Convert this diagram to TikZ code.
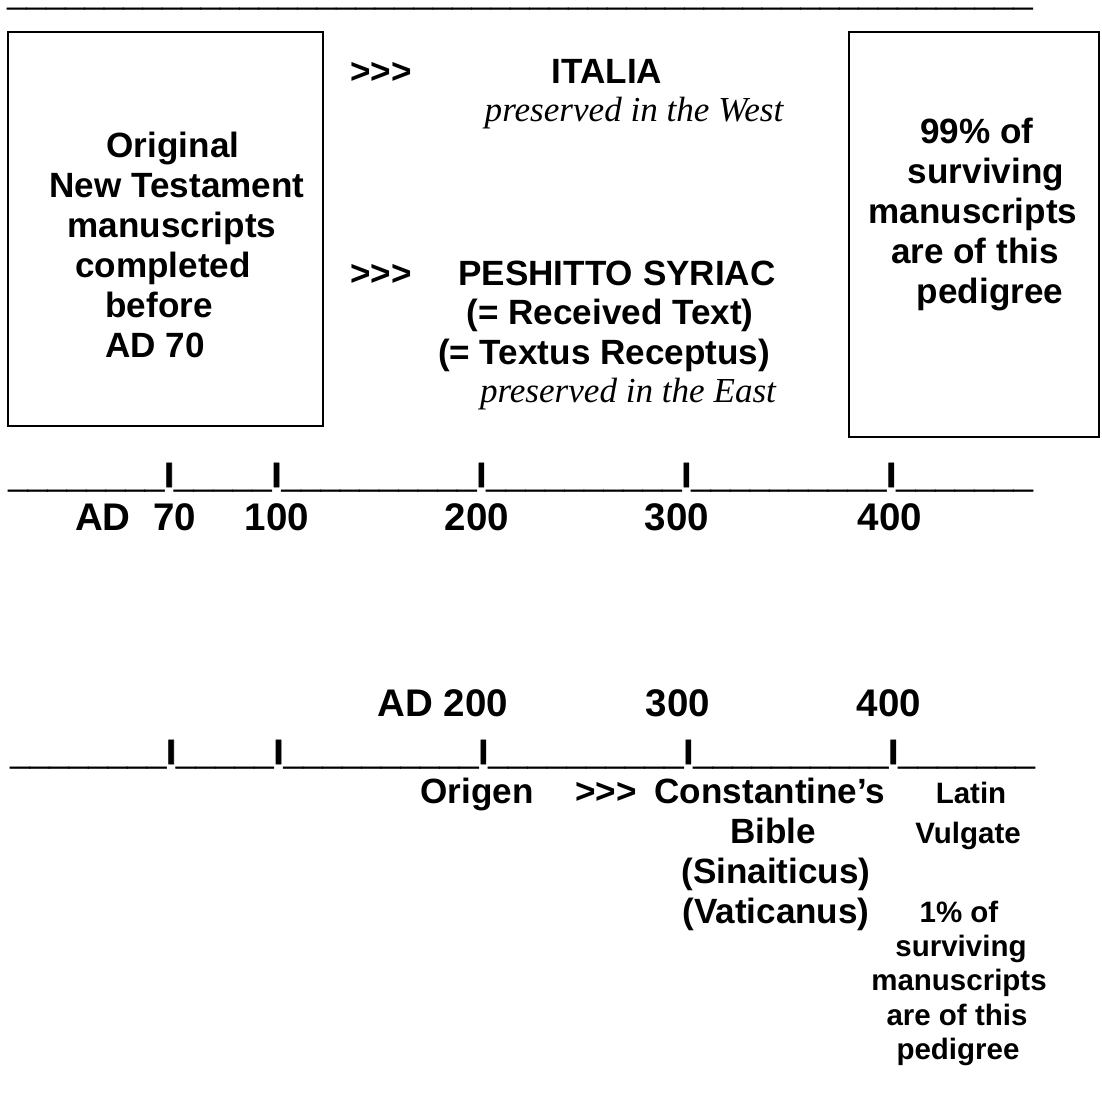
\documentclass[tikz,border=0pt]{standalone}
\usepackage{fontspec}
\setmainfont{Liberation Sans}
\newfontfamily\serifit{Liberation Serif}
\newfontfamily\rulefont{Liberation Sans Bold}[FakeBold=1.5]
\begin{document}
\begin{tikzpicture}[x=1pt,y=-1pt,
  t/.style={anchor=base,inner sep=0pt,font=\fontsize{35.1}{40.4}\selectfont\bfseries},
  lb/.style={anchor=base,inner sep=0pt,font=\fontsize{38.5}{44}\selectfont\bfseries},
  ital/.style={anchor=base,inner sep=0pt,font=\fontsize{35.1}{40.4}\selectfont\serifit\itshape},
  sm/.style={anchor=base,inner sep=0pt,font=\fontsize{29.5}{34}\selectfont\bfseries},
  rulerow/.style={anchor=base west,inner sep=0pt,font=\fontsize{35.1}{40.4}\selectfont\rulefont},
  frame/.style={draw,line width=1.4pt}]
\useasboundingbox (0,0) rectangle (1101,1109);

% top rule
\node[rulerow,font=\fontsize{34.8}{40}\selectfont\rulefont] (toprule) at (7,5)
 {\_\_\_\_\_\_\_\_\_\_\_\_\_\_\_\_\_\_\_\_\_\_\_\_\_\_\_\_\_\_\_\_\_\_\_\_\_\_\_\_\_\_\_\_\_\_\_\_\_\_\_\_\_};

% boxes
\draw[frame] (8,32) rectangle (323,426);
\draw[frame] (849,32) rectangle (1099,437);

% left box text
\node[t] (o1) at (173,157) {Original};
\node[t] (o2) at (177,197) {New Testament};
\node[t] (o3) at (172,237) {manuscripts};
\node[t] (o4) at (163,277) {completed};
\node[t] (o5) at (159,317) {before};
\node[t] (o6) at (155,357) {AD 70};

% right box text
\node[t] (r1) at (977,143) {99\% of};
\node[t] (r2) at (986,183) {surviving};
\node[t] (r3) at (973,223) {manuscripts};
\node[t] (r4) at (975,263) {are of this};
\node[t] (r5) at (990,303) {pedigree};

% middle
\node[t,anchor=base west] (a1) at (350,83) {>{}>{}>};
\node[t] (it) at (607,83) {ITALIA};
\node[ital] (west) at (634,121) {preserved in the West};
\node[t,anchor=base west] (a2) at (350,285) {>{}>{}>};
\node[t] (p1) at (617,285) {PESHITTO SYRIAC};
\node[t] (p2) at (610,324) {(= Received Text)};
\node[t] (p3) at (604,364) {(= Textus Receptus)};
\node[ital] (east) at (628,402) {preserved in the East};

% timeline 1
\node[rulerow] (tl1) at (8,487)
 {\_\_\_\_\_\_\_\_I\_\_\_\_\_I\_\_\_\_\_\_\_\_\_\_I\_\_\_\_\_\_\_\_\_\_I\_\_\_\_\_\_\_\_\_\_I\_\_\_\_\_\_\_};
\node[lb] (y0) at (103,530) {AD};
\node[lb] (y1) at (175,530) {70};
\node[lb] (y2) at (277,530) {100};
\node[lb] (y3) at (477,530) {200};
\node[lb] (y4) at (677,530) {300};
\node[lb] (y5) at (890,530) {400};

% timeline 2
\node[lb] (z1) at (443,716) {AD 200};
\node[lb] (z2) at (678,716) {300};
\node[lb] (z3) at (889,716) {400};
\node[rulerow] (tl2) at (10,764)
 {\_\_\_\_\_\_\_\_I\_\_\_\_\_I\_\_\_\_\_\_\_\_\_\_I\_\_\_\_\_\_\_\_\_\_I\_\_\_\_\_\_\_\_\_\_I\_\_\_\_\_\_\_};

% bottom texts
\node[t] (orig) at (477,803) {Origen};
\node[t,anchor=base west] (a3) at (575,803) {>{}>{}>};
\node[t] (c1) at (770,803) {Constantine’s};
\node[t] (c2) at (773,843) {Bible};
\node[t] (c3) at (776,883) {(Sinaiticus)};
\node[t] (c4) at (776,923) {(Vaticanus)};
\node[sm] (v1) at (971,803) {Latin};
\node[sm] (v2) at (968,843) {Vulgate};
\node[sm] (s1) at (959,922) {1\% of};
\node[sm] (s2) at (961,956) {surviving};
\node[sm] (s3) at (959,990) {manuscripts};
\node[sm] (s4) at (957,1025) {are of this};
\node[sm] (s5) at (958,1059) {pedigree};
\end{tikzpicture}
\end{document}
